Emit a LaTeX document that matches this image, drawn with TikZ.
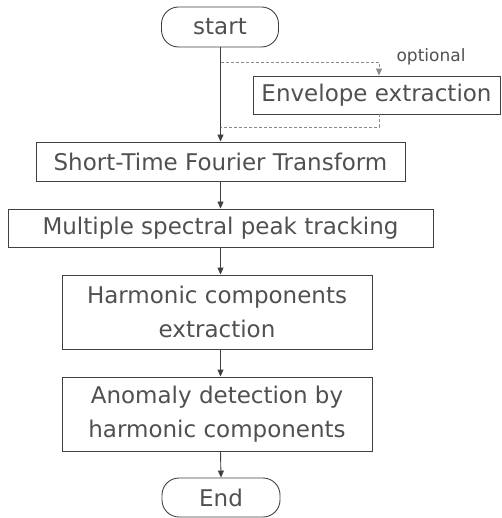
\documentclass[tikz,border=0pt]{standalone}
\usepackage{fontspec}
\setmainfont{DejaVu Sans}
\usetikzlibrary{arrows.meta}
\definecolor{ink}{HTML}{505050}
\definecolor{edge}{HTML}{404040}
\definecolor{dashc}{HTML}{8A8A8A}
\tikzset{
  flowbox/.style={draw=edge, line width=0.9pt, rectangle, inner sep=0pt,
    text=ink, align=center, font=\fontsize{23}{34}\selectfont},
  terminal/.style={flowbox, rounded corners=17pt},
  flowarrow/.style={draw=edge, line width=0.9pt,
    -{Triangle[width=6pt,length=7pt]}},
  optline/.style={draw=dashc, line width=0.8pt, dash pattern=on 3pt off 2pt},
}
\begin{document}
\begin{tikzpicture}[x=1pt, y=-1pt]
\useasboundingbox (0,0) rectangle (501,518);

\node[terminal, minimum width=117pt, minimum height=40pt] (start) at (220,27) {start};
\node[flowbox, minimum width=247pt, minimum height=38pt] (env) at (376.5,95) {Envelope extraction};
\node[text=ink, font=\fontsize{17}{20}\selectfont, inner sep=0pt] (opt) at (431,57) {optional};
\node[flowbox, minimum width=369pt, minimum height=39pt] (stft) at (220.5,161.5) {Short-Time Fourier Transform};
\node[flowbox, minimum width=425pt, minimum height=38pt] (peak) at (220.5,228) {Multiple spectral peak tracking};
\node[flowbox, minimum width=310pt, minimum height=74pt] (harm) at (217,312) {Harmonic components\\extraction};
\node[flowbox, minimum width=310pt, minimum height=74pt] (anom) at (217,414) {Anomaly detection by\\harmonic components};
\node[terminal, minimum width=118pt, minimum height=39pt] (fin) at (221,497.5) {End};

% optional envelope branch
\coordinate (split) at (221,62);
\coordinate (merge) at (221,127);
\draw[optline, -{Triangle[width=6pt,length=7pt]}] (split) -| ([xshift=2.5pt]env.north);
\draw[optline] ([xshift=2.5pt]env.south) |- (merge);

% main flow
\draw[flowarrow] (start.south -| stft.north) -- (stft.north);
\draw[flowarrow] (stft.south) -- (peak.north);
\draw[flowarrow] (peak.south) -- (peak.south |- harm.north);
\draw[flowarrow] (peak.south |- harm.south) -- (peak.south |- anom.north);
\draw[flowarrow] (peak.south |- anom.south) -- (fin.north);
\end{tikzpicture}
\end{document}
